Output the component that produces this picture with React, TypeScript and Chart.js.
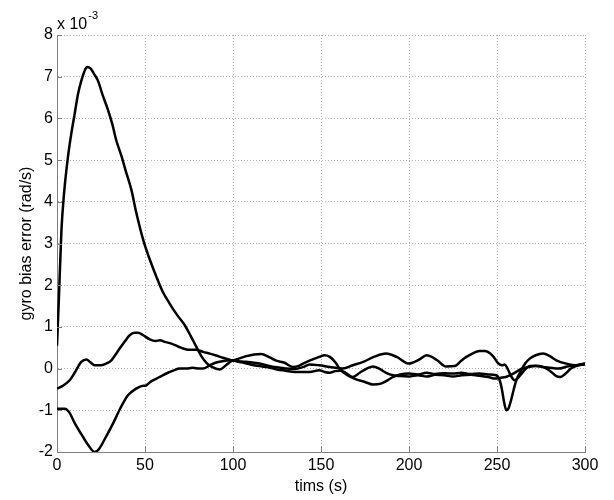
import React, { useEffect, useRef } from 'react';
import { Chart, registerables } from 'chart.js';

Chart.register(...registerables);

// Time axis (s) and bias error (units of 1e-3 rad/s)
const xTickValues = [0, 50, 100, 150, 200, 250, 300];
const yTickValues = [-2, -1, 0, 1, 2, 3, 4, 5, 6, 7, 8];
const xTitle = 'tims (s)';
const yTitle = 'gyro bias error (rad/s)';
const exponentBase = 'x 10';
const exponentPower = '-3';

// Series A: the large peak
const aTime = [0, 1, 2.5, 4, 6.3, 8, 10, 12, 13.8, 15.5, 17, 19, 21, 23.3, 26, 29, 31.5, 33.7, 36.6, 39, 42.3, 45, 48.9, 52, 56.5, 60, 64, 68, 72.6, 76, 79.2, 82, 84.9, 88, 92.4, 96, 99, 102, 107.6, 112, 116, 120.8, 124.6, 129.3, 134, 137, 139.8, 143.5, 149, 152, 155, 158, 160.6, 162.5, 166, 170, 175, 179.5, 184, 187, 191, 195, 200, 205, 210, 215, 220, 225, 230, 235, 240, 245, 249.5, 251.5, 252.8, 254, 255.3, 256.6, 258.1, 259.5, 261, 263.8, 266, 268.6, 272, 276.1, 280, 283.7, 289.4, 295, 300];
const aBias = [0.55, 1.6, 3.3, 4.2, 5.1, 5.6, 6.1, 6.6, 6.9, 7.12, 7.23, 7.2, 7.07, 6.9, 6.55, 6.2, 5.85, 5.47, 5.1, 4.75, 4.28, 3.75, 3.1, 2.7, 2.2, 1.85, 1.56, 1.3, 1.04, 0.78, 0.52, 0.3, 0.14, 0.04, -0.02, 0.08, 0.18, 0.22, 0.3, 0.34, 0.35, 0.27, 0.19, 0.14, 0.04, 0.06, 0.12, 0.19, 0.28, 0.32, 0.28, 0.16, 0.0, -0.08, -0.18, -0.26, -0.32, -0.38, -0.36, -0.3, -0.2, -0.14, -0.12, -0.14, -0.1, -0.13, -0.11, -0.12, -0.1, -0.13, -0.12, -0.14, -0.16, -0.28, -0.5, -0.8, -1.0, -0.95, -0.74, -0.5, -0.28, -0.04, 0.12, 0.24, 0.32, 0.36, 0.3, 0.2, 0.12, 0.08, 0.1];

// Series B: starts at -0.5, hump near 45 s
const bTime = [0, 3, 7.2, 10, 13.8, 16.7, 19, 21.4, 25.2, 28, 30.9, 33, 35.6, 38.5, 41.3, 44, 46, 49, 52.7, 56, 58.5, 61.2, 65, 68.8, 73.5, 79.2, 83, 86.8, 90, 94.3, 98.9, 105, 110, 115, 120, 125, 130, 135, 140, 143.6, 149, 155, 162.5, 168, 174, 180, 187, 193, 200, 206, 210, 216, 221, 226, 230, 232.6, 236, 240, 243, 247.7, 250, 251.5, 253, 254.4, 256, 258, 260, 262, 264, 266, 268.6, 272, 276, 280, 283.7, 286, 289, 292, 296, 300];
const bBias = [-0.48, -0.42, -0.28, -0.1, 0.16, 0.22, 0.15, 0.08, 0.08, 0.12, 0.2, 0.32, 0.48, 0.65, 0.8, 0.86, 0.86, 0.8, 0.7, 0.66, 0.68, 0.64, 0.6, 0.53, 0.46, 0.45, 0.4, 0.36, 0.32, 0.26, 0.2, 0.17, 0.15, 0.12, 0.07, 0.03, 0.0, -0.01, 0.04, 0.1, 0.08, 0.04, 0.0, 0.08, 0.16, 0.28, 0.36, 0.28, 0.12, 0.22, 0.32, 0.2, 0.05, 0.06, 0.2, 0.28, 0.36, 0.42, 0.42, 0.3, 0.16, 0.1, 0.08, 0.1, 0.0, -0.18, -0.28, -0.22, -0.12, -0.02, 0.06, 0.07, 0.04, -0.05, -0.18, -0.2, -0.12, 0.0, 0.08, 0.12];

// Series C: starts at -1, dips to -2 near 21 s
const cTime = [0, 4.4, 7, 10, 14.8, 18, 21.4, 24, 27, 31.8, 36, 40.3, 45, 48, 50.8, 53, 56.5, 60, 63, 66, 69.7, 73.5, 77, 81, 83, 86.8, 90, 94.3, 98, 105, 110, 115, 120, 125, 130, 135, 140, 143.6, 149, 152, 155, 158, 161, 164, 168, 172, 176, 179.5, 183, 187, 191, 195, 200, 205, 210, 215, 220, 225, 230, 235, 240, 245, 249, 252, 255, 258, 261, 264, 268, 272, 276, 280, 285, 290, 295, 300];
const cBias = [-0.96, -0.96, -1.05, -1.3, -1.64, -1.85, -2.0, -1.92, -1.7, -1.32, -0.95, -0.64, -0.48, -0.42, -0.4, -0.32, -0.24, -0.16, -0.1, -0.05, 0.0, 0.0, 0.02, 0.0, 0.0, 0.08, 0.14, 0.18, 0.2, 0.15, 0.1, 0.06, 0.03, -0.02, -0.05, -0.08, -0.08, -0.08, -0.04, -0.08, -0.1, -0.06, -0.05, -0.1, -0.2, -0.1, 0.0, 0.05, 0.0, -0.1, -0.16, -0.18, -0.19, -0.16, -0.19, -0.15, -0.16, -0.19, -0.16, -0.15, -0.17, -0.2, -0.24, -0.22, -0.2, -0.15, -0.08, 0.0, 0.04, 0.06, 0.04, 0.02, 0.0, 0.05, 0.08, 0.12];

const FONT = '"Liberation Sans", Arial, Helvetica, sans-serif';
const AXIS_GRAY = '#808080';

const toPoints = (t: number[], v: number[]) => t.map((x, i) => ({ x, y: v[i] }));

const decorPlugin = {
  id: 'decor',
  afterDraw(chart: any) {
    const { ctx, chartArea, scales } = chart;
    const xs = scales.x;
    const ys = scales.y;
    ctx.save();
    ctx.strokeStyle = AXIS_GRAY;
    ctx.lineWidth = 1;
    ctx.beginPath();
    xTickValues.forEach((v) => {
      const px = Math.round(xs.getPixelForValue(v)) + 0.5;
      ctx.moveTo(px, chartArea.bottom);
      ctx.lineTo(px, chartArea.bottom - 5);
    });
    yTickValues.forEach((v) => {
      const py = Math.round(ys.getPixelForValue(v)) + 0.5;
      ctx.moveTo(chartArea.left, py);
      ctx.lineTo(chartArea.left + 5, py);
    });
    ctx.stroke();
    // exponent label
    ctx.fillStyle = '#000';
    ctx.textBaseline = 'alphabetic';
    ctx.textAlign = 'left';
    ctx.font = `16px ${FONT}`;
    const x0 = chartArea.left;
    ctx.fillText(exponentBase, x0, 29);
    const w = ctx.measureText(exponentBase).width;
    ctx.font = `11px ${FONT}`;
    ctx.fillText(exponentPower, x0 + w + 1, 19);
    ctx.restore();
  },
};

export default function App() {
  const canvasRef = useRef<HTMLCanvasElement | null>(null);

  useEffect(() => {
    if (!canvasRef.current) return;
    const lineStyle = {
      borderColor: '#000000',
      borderWidth: 2.5,
      pointRadius: 0,
      fill: false,
      cubicInterpolationMode: 'monotone' as const,
    };
    const chart = new Chart(canvasRef.current, {
      type: 'line',
      data: {
        datasets: [
          { label: 'A', data: toPoints(aTime, aBias), ...lineStyle },
          { label: 'B', data: toPoints(bTime, bBias), ...lineStyle },
          { label: 'C', data: toPoints(cTime, cBias), ...lineStyle },
        ],
      },
      options: {
        animation: false,
        responsive: true,
        maintainAspectRatio: false,
        layout: { padding: { left: 0, right: 29, top: 35, bottom: 0 } },
        plugins: {
          legend: { display: false },
          tooltip: { enabled: false },
        },
        scales: {
          x: {
            type: 'linear',
            min: 0,
            max: 300,
            afterBuildTicks: (scale: any) => {
              scale.ticks = xTickValues.map((value) => ({ value }));
            },
            afterFit: (scale: any) => {
              scale.height = 48;
            },
            ticks: {
              color: '#000',
              font: { family: FONT, size: 16 },
              padding: 4,
              maxRotation: 0,
              autoSkip: false,
            },
            grid: { color: '#b0b0b0', lineWidth: 1, drawTicks: false },
            border: { display: true, color: AXIS_GRAY, width: 1, dash: [1, 2] },
            title: {
              display: true,
              text: xTitle,
              color: '#000',
              font: { family: FONT, size: 16 },
              padding: { top: 0, bottom: 3.5 },
            },
          },
          y: {
            type: 'linear',
            min: -2,
            max: 8,
            afterBuildTicks: (scale: any) => {
              scale.ticks = yTickValues.map((value) => ({ value }));
            },
            afterFit: (scale: any) => {
              scale.width = 57;
            },
            ticks: {
              color: '#000',
              font: { family: FONT, size: 16 },
              padding: 4,
              autoSkip: false,
            },
            grid: { color: '#b0b0b0', lineWidth: 1, drawTicks: false },
            border: { display: true, color: AXIS_GRAY, width: 1, dash: [1, 2] },
            title: {
              display: true,
              text: yTitle,
              color: '#000',
              font: { family: FONT, size: 16 },
              padding: { top: 17, bottom: 0 },
            },
          },
        },
      },
      plugins: [decorPlugin],
    });
    return () => chart.destroy();
  }, []);

  return (
    <div style={{ position: 'fixed', left: 0, top: 0, width: 614, height: 500, background: '#fff' }}>
      <canvas ref={canvasRef} />
    </div>
  );
}
